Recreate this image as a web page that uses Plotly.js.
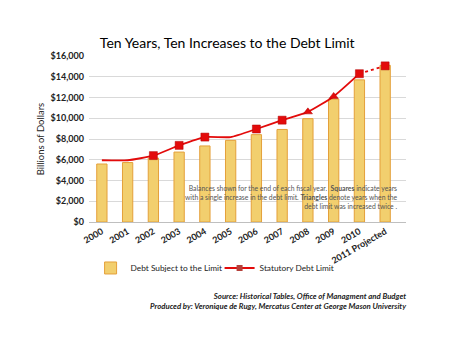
<!DOCTYPE html>
<html><head><meta charset="utf-8">
<script src="https://cdn.plot.ly/plotly-3.0.1.min.js"></script>
<style>body{margin:0;background:#fff}#c{width:450px;height:348px}</style>
</head><body><div id="c"></div>
<script>
const years = ['2000','2001','2002','2003','2004','2005','2006','2007','2008','2009','2010','2011 Projected'];
const debtSubject = [5590, 5730, 6160, 6740, 7330, 7870, 8420, 8920, 9960, 11850, 13700, 15100];
const debtLimit = [5950, 5950, 6400, 7384, 8184, 8184, 8965, 9815, 10615, 12104, 14294, 15050];
const increases = [0, 0, 1, 1, 1, 0, 1, 1, 2, 2, 1, 1];
const yTicks = [0, 2000, 4000, 6000, 8000, 10000, 12000, 14000, 16000];
const yTickText = ['$0','$2,000','$4,000','$6,000','$8,000','$10,000','$12,000','$14,000','$16,000'];

const F = 'Lato, "Open Sans", sans-serif';
const red = '#E30B0B';
const mIdx = increases.map((v,i)=>v>0?i:-1).filter(i=>i>=0);

const traces = [
  {type:'bar', x:years, y:debtSubject, name:'Debt Subject to the Limit', width:0.4,
   marker:{color:'#F2CF6E', line:{color:'#E4A03A', width:1}}, hoverinfo:'skip'},
  {type:'scatter', mode:'lines', x:years.slice(0,11), y:debtLimit.slice(0,11), showlegend:false,
   line:{color:red, width:1.8, shape:'spline', smoothing:0.5}},
  {type:'scatter', mode:'lines', x:years.slice(10), y:debtLimit.slice(10), showlegend:false,
   line:{color:red, width:1.8, dash:'dot'}},
  {type:'scatter', mode:'markers', x:mIdx.map(i=>years[i]), y:mIdx.map(i=>debtLimit[i]), showlegend:false,
   marker:{color:red, size:8, symbol:mIdx.map(i=>increases[i]===2?'triangle-up':'square'), line:{color:'#B00000', width:0.5}}},
  {type:'scatter', mode:'lines+markers', x:[null], y:[null], name:'Statutory Debt Limit',
   line:{color:red, width:2}, marker:{color:'#B5403A', size:6, symbol:'square'}}
];

const layout = {
  width:450, height:348, paper_bgcolor:'#fff', plot_bgcolor:'#fff',
  margin:{l:89, r:44, t:56, b:126},
  font:{family:F, color:'#222'},
  title:{text:'Ten Years, Ten Increases to the Debt Limit', font:{family:F, size:14, color:'#000'}, x:0.505, xanchor:'center', y:0.875, yanchor:'middle'},
  showlegend:true,
  legend:{orientation:'h', x:0.005, xanchor:'left', y:-0.277, yanchor:'middle', bgcolor:'rgba(0,0,0,0)', font:{size:8.3, color:'#222'}, itemwidth:30, entrywidth:84, traceorder:'normal'},
  xaxis:{type:'category', tickangle:-30, tickfont:{size:9, color:'#222', weight:'bold'}, showgrid:false, showline:true, linecolor:'#BFBFBF', linewidth:1, ticks:'', fixedrange:true},
  yaxis:{range:[0,16000], tickvals:yTicks, ticktext:yTickText, tickfont:{size:9, color:'#222', weight:'bold'}, gridcolor:'#D9D9D9', gridwidth:1, zeroline:false, showline:false, ticks:'', ticklabelstandoff:4,
    title:{text:'Billions of Dollars', font:{size:9.5, color:'#222'}, standoff:4}},
  annotations:[
    {xref:'paper', yref:'paper', x:0.978, y:0.152, xanchor:'right', yanchor:'middle', align:'right', showarrow:false,
     text:'Balances shown for the end of each fiscal year.  <b>Squares</b> indicate years<br>with a single increase in the debt limit. <b>Triangles</b> denote years when the<br>debt limit was increased twice .',
     font:{family:F, size:6.8, color:'#555'}},
    {xref:'paper', yref:'paper', x:1.01, y:-0.404, xanchor:'right', yanchor:'top', align:'right', showarrow:false,
     text:'<b><i>Source: Historical Tables, Office of Managment and Budget<br>Produced by: Veronique de Rugy, Mercatus Center at George Mason University</i></b>',
     font:{family:F, size:7.8, color:'#222'}}
  ]
};
Plotly.newPlot('c', traces, layout, {displayModeBar:false, staticPlot:true});
</script></body></html>
